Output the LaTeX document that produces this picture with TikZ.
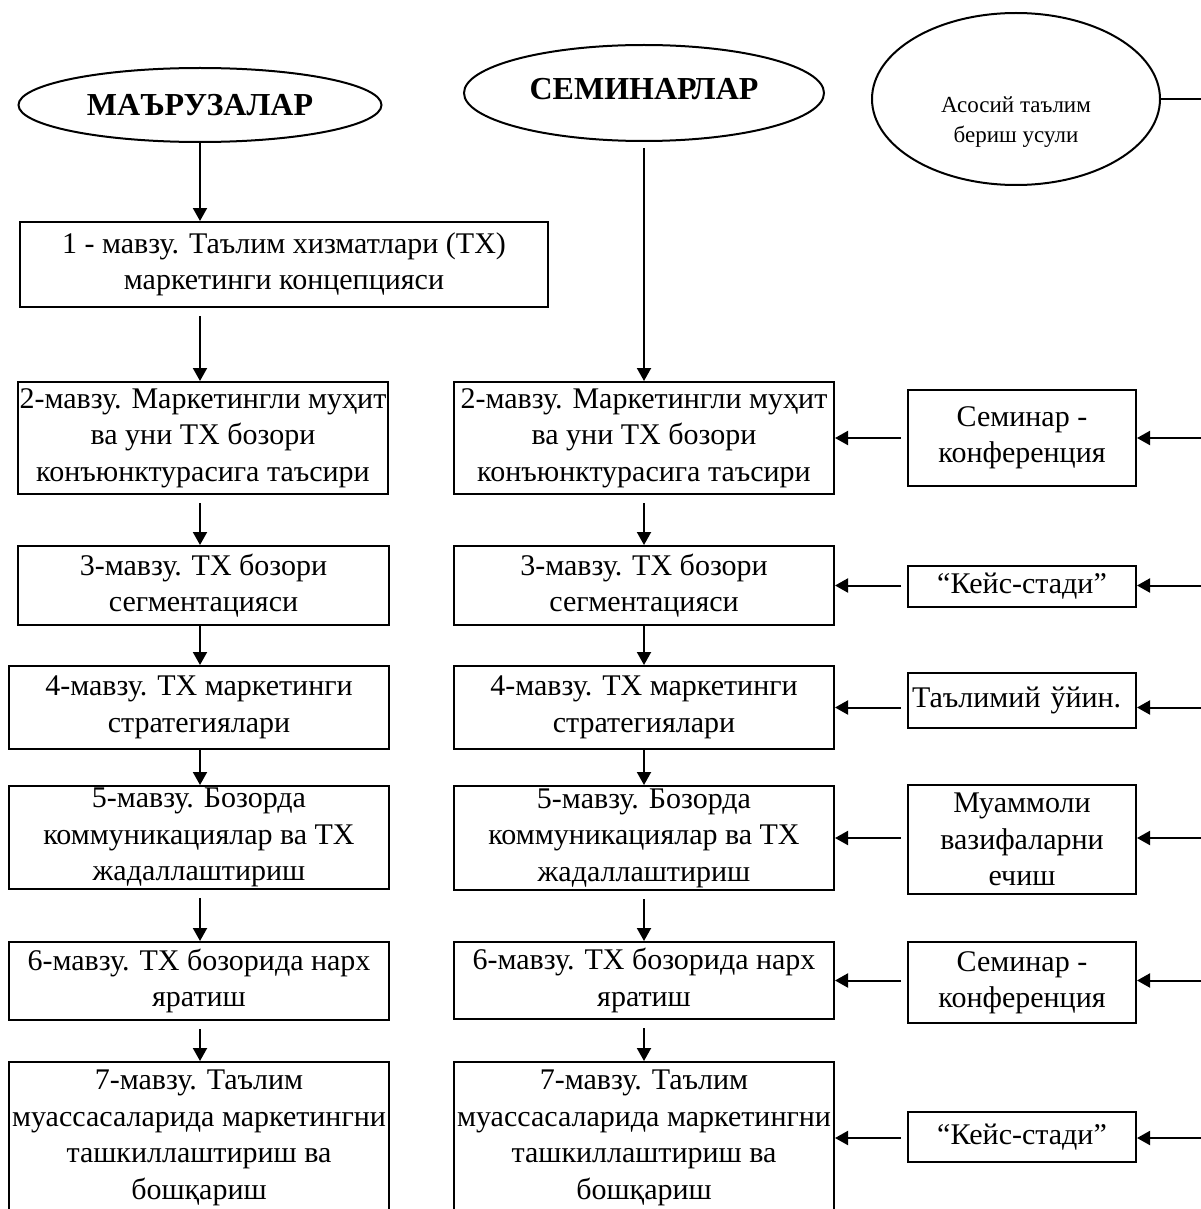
\documentclass[tikz,border=0pt]{standalone}
\usepackage{fontspec}
\setmainfont{Liberation Serif}
\usetikzlibrary{shapes.geometric,arrows.meta}

\begin{document}
\begin{tikzpicture}[
		x=1pt,y=-1pt,
		line width=2pt,
		every node/.style={draw,inner sep=0pt,align=center,font=\fontsize{30}{36.5}\selectfont},
		head/.style={ellipse,font=\fontsize{32}{38}\selectfont\bfseries},
		topic/.style={minimum width=380pt},
		method/.style={minimum width=228pt},
		arr/.style={-{Triangle[length=13pt,width=14pt]}},
		gap/.style={shorten <=8pt}
		]
		\useasboundingbox (0,0) rectangle (1200,1209);
		\node[head,minimum width=363pt,minimum height=74pt] (lec) at (200,105) {МАЪРУЗАЛАР};
		\node[head,minimum width=360pt,minimum height=96pt] (sem) at (644,93) {\raisebox{8pt}{СЕМИНАРЛАР}};
		\node[ellipse,minimum width=288pt,minimum height=172pt,
			label={[draw=none,yshift=-23pt,font=\fontsize{23}{30}\selectfont]center:Асосий таълим\\бериш усули}] (usul) at (1016,99) {};
		\coordinate (bus) at (1215,99);
		
		\node[minimum width=528pt,minimum height=85pt] (lec1) at (284,264.5) {1 - мавзу. Таълим хизматлари (ТХ)\\маркетинги концепцияси};
		\node[minimum width=370pt,minimum height=112pt] (lec2) at (203,438) {2-мавзу. Маркетингли муҳит\\ва уни ТХ бозори\\конъюнктурасига таъсири};
		\node[minimum width=371pt,minimum height=79pt] (lec3) at (203.5,585.5) {3-мавзу. ТХ бозори\\сегментацияси};
		\node[topic,minimum height=83pt] (lec4) at (199,707.5) {4-мавзу. ТХ маркетинги\\стратегиялари};
		\node[topic,minimum height=103pt] (lec5) at (199,837.5) {5-мавзу. Бозорда\\коммуникациялар ва ТХ\\жадаллаштириш};
		\node[topic,minimum height=78pt] (lec6) at (199,981) {6-мавзу. ТХ бозорида нарх\\яратиш};
		\node[topic,minimum height=152pt] (lec7) at (199,1138) {7-мавзу. Таълим\\муассасаларида маркетингни\\ташкиллаштириш ва\\бошқариш};
		
		\node[topic,minimum height=112pt] (sem2) at (644,438) {2-мавзу. Маркетингли муҳит\\ва уни ТХ бозори\\конъюнктурасига таъсири};
		\node[topic,minimum height=79pt] (sem3) at (644,585.5) {3-мавзу. ТХ бозори\\сегментацияси};
		\node[topic,minimum height=83pt] (sem4) at (644,707.5) {4-мавзу. ТХ маркетинги\\стратегиялари};
		\node[topic,minimum height=104pt] (sem5) at (644,838) {5-мавзу. Бозорда\\коммуникациялар ва ТХ\\жадаллаштириш};
		\node[topic,minimum height=77pt] (sem6) at (644,980.5) {6-мавзу. ТХ бозорида нарх\\яратиш};
		\node[topic,minimum height=152pt] (sem7) at (644,1138) {7-мавзу. Таълим\\муассасаларида маркетингни\\ташкиллаштириш ва\\бошқариш};
		
		\node[method,minimum height=96pt] (met2) at (1022,438) {Семинар -\\конференция};
		\node[method,minimum height=41pt] (met3) at (1022,586.5) {“Кейс-стади”};
		\node[method,minimum height=55pt,text width=220pt,align=left,inner xsep=4pt] (met4) at (1022,700.5) {Таълимий ўйин.};
		\node[method,minimum height=109pt] (met5) at (1022,839.5) {Муаммоли\\вазифаларни\\ечиш};
		\node[method,minimum height=81pt] (met6) at (1022,982.5) {Семинар -\\конференция};
		\node[method,minimum height=50pt] (met7) at (1022,1137) {“Кейс-стади”};
		
		\draw[arr] (lec.south) -- (lec.south |- lec1.north);
		\draw[arr,gap] (lec1.south -| lec) -- (lec2.north -| lec);
		\draw[arr,gap] (lec2.south -| lec) -- (lec3.north -| lec);
		\draw[arr] (lec3.south -| lec) -- (lec4.north -| lec);
		\draw[arr] (lec4.south -| lec) -- (lec5.north -| lec);
		\draw[arr,gap] (lec5.south -| lec) -- (lec6.north -| lec);
		\draw[arr,gap] (lec6.south -| lec) -- (lec7.north -| lec);
		
		\draw[arr,shorten <=6pt] (sem.south) -- (sem2.north);
		\draw[arr,gap] (sem2.south) -- (sem3.north);
		\draw[arr] (sem3.south) -- (sem4.north);
		\draw[arr] (sem4.south) -- (sem5.north);
		\draw[arr,gap] (sem5.south) -- (sem6.north);
		\draw[arr,gap] (sem6.south) -- (sem7.north);
		
		\draw[arr,shorten <=6pt] (met2.west |- sem2) -- (sem2.east);
		\draw[arr,shorten <=6pt] (met3.west |- sem3) -- (sem3.east);
		\draw[arr,shorten <=6pt] (met4.west |- sem4) -- (sem4.east);
		\draw[arr,shorten <=6pt] (met5.west |- sem5) -- (sem5.east);
		\draw[arr,shorten <=6pt] (met6.west |- sem6) -- (sem6.east);
		\draw[arr,shorten <=6pt] (met7.west |- sem7) -- (sem7.east);
		
		\draw (usul.east) -- (bus);
		\draw[arr] (bus |- sem2) -- (met2.east |- sem2);
		\draw[arr] (bus |- sem3) -- (met3.east |- sem3);
		\draw[arr] (bus |- sem4) -- (met4.east |- sem4);
		\draw[arr] (bus |- sem5) -- (met5.east |- sem5);
		\draw[arr] (bus |- sem6) -- (met6.east |- sem6);
		\draw[arr] (bus |- sem7) -- (met7.east |- sem7);
\end{tikzpicture}
\end{document}
